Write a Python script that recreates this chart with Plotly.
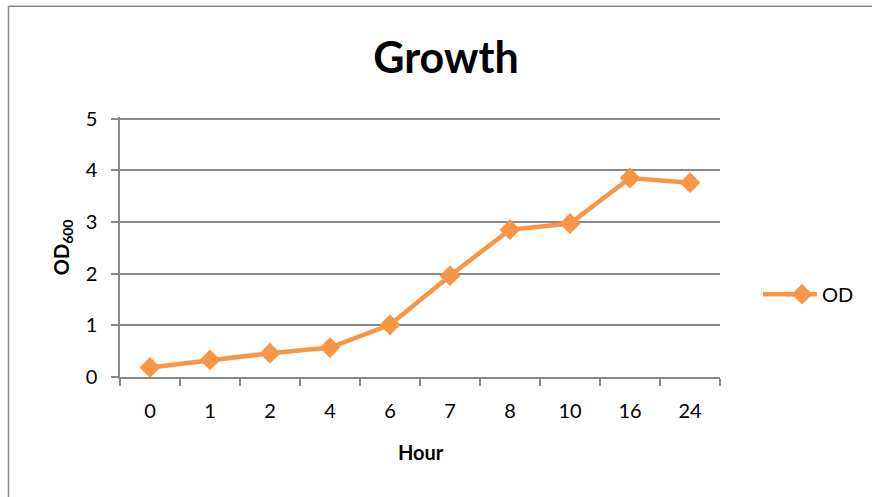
import plotly.graph_objects as go

hours = ["0", "1", "2", "4", "6", "7", "8", "10", "16", "24"]
od_values = [0.185, 0.33, 0.46, 0.57, 1.01, 1.96, 2.85, 2.97, 3.85, 3.76]
y_ticks = [0, 1, 2, 3, 4, 5]

W, H = 872, 497
L, R, T, B = 120, 720, 116.5, 377
pw, ph = R - L, B - T

def px_x(x):
    return (x - L) / pw

def px_y(y):
    return (B - y) / ph

orange = "#F79646"
grey = "#898989"
font = "Lato, 'Open Sans', sans-serif"

fig = go.Figure()
fig.add_trace(go.Scatter(
    x=hours, y=od_values, mode="lines+markers", name="OD",
    line=dict(color=orange, width=4.5),
    marker=dict(symbol="diamond", size=16, color=orange),
))

fig.update_layout(
    width=W, height=H,
    margin=dict(l=L, r=W - R, t=T, b=H - B),
    paper_bgcolor="white", plot_bgcolor="white",
    font=dict(family=font, color="black", size=20),
    title=dict(text="<b>Growth</b>", x=446 / W, xanchor="center",
               y=1 - 58 / H, yanchor="middle", yref="container",
               font=dict(size=43, family=font, color="black")),
    showlegend=True,
    legend=dict(x=px_x(782), y=px_y(294), xanchor="left", yanchor="middle",
                font=dict(size=20, family=font), bgcolor="rgba(0,0,0,0)"),
    xaxis=dict(type="category", showline=True, linecolor=grey, linewidth=1.5,
               ticks="outside", tickson="boundaries", ticklen=7, tickcolor=grey,
               tickwidth=1.5, showgrid=False, ticklabelstandoff=15,
               tickfont=dict(size=20, family=font), range=[-0.5, 9.5]),
    yaxis=dict(range=[y_ticks[0], y_ticks[-1] * 1.006], tickvals=y_ticks, showline=True,
               linecolor=grey, linewidth=1.5, ticks="outside", ticklen=7, tickcolor=grey,
               tickwidth=1.5, showgrid=True, gridcolor=grey, gridwidth=1.5, zeroline=False,
               ticklabelstandoff=10, tickfont=dict(size=20, family=font)),
    annotations=[
        dict(text="<b>Hour</b>", x=px_x(421), y=px_y(452), xref="paper", yref="paper",
             showarrow=False, xanchor="center", yanchor="middle",
             font=dict(size=20, family=font)),
        dict(text="<b>OD<sub>600</sub></b>", x=px_x(62), y=px_y(247), xref="paper",
             yref="paper", showarrow=False, xanchor="center", yanchor="middle",
             textangle=-90, font=dict(size=20, family=font)),
    ],
    shapes=[
        # chart outer border (left and top edges visible)
        dict(type="line", xref="paper", yref="paper",
             x0=px_x(8.5), x1=px_x(8.5), y0=px_y(H + 40), y1=px_y(5.5),
             line=dict(color=grey, width=1.5), layer="below"),
        dict(type="line", xref="paper", yref="paper",
             x0=px_x(8.5), x1=px_x(W), y0=px_y(5.5), y1=px_y(5.5),
             line=dict(color=grey, width=1.5), layer="below"),
        # legend line extension (Excel-style longer legend key)
        dict(type="line", xref="paper", yref="paper",
             x0=px_x(763), x1=px_x(790), y0=px_y(294), y1=px_y(294),
             line=dict(color=orange, width=4.5)),
    ],
)

fig.write_html("out.html", config={"displayModeBar": False},
               post_script="document.body.style.margin='0px';")
